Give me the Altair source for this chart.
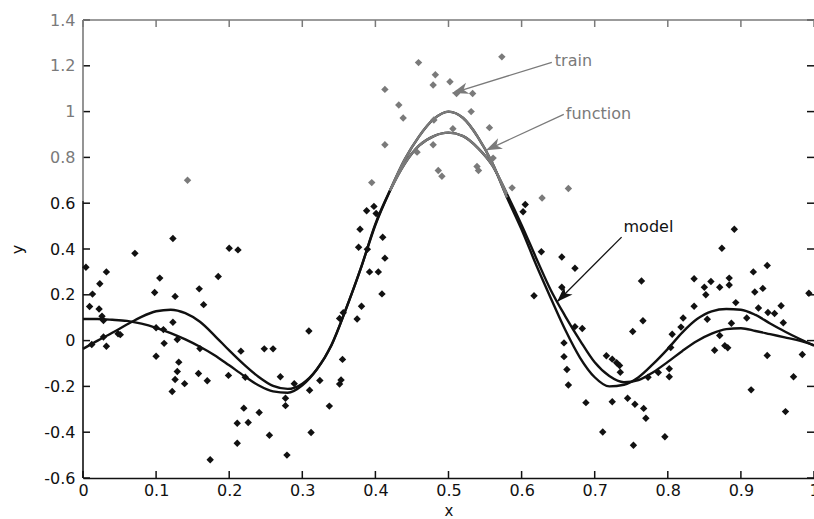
import math
import altair as alt
import pandas as pd

# ---------------- data ----------------
train_left = [
    (0.004, 0.32), (0.009, 0.149), (0.012, -0.017), (0.013, 0.203), (0.022, 0.138),
    (0.023, 0.248), (0.026, 0.106), (0.028, 0.088), (0.028, 0.016), (0.032, 0.30),
    (0.032, -0.025), (0.048, 0.03), (0.051, 0.026), (0.071, 0.381), (0.098, 0.21),
    (0.100, -0.068), (0.100, 0.056), (0.105, 0.273), (0.110, 0.048), (0.111, -0.012),
    (0.122, -0.222), (0.123, 0.446), (0.123, 0.08), (0.126, 0.193), (0.126, -0.17),
    (0.129, 0.005), (0.129, -0.135), (0.131, -0.094), (0.139, -0.188), (0.143, 0.70),
    (0.158, -0.144), (0.159, 0.226), (0.160, -0.035), (0.165, 0.157), (0.170, -0.175),
    (0.174, -0.52), (0.185, 0.28), (0.199, -0.152), (0.200, 0.403), (0.211, -0.361),
    (0.211, -0.448), (0.212, 0.396), (0.216, -0.046), (0.220, -0.295), (0.222, -0.16),
    (0.226, -0.358), (0.241, -0.314), (0.248, -0.036), (0.255, -0.413), (0.260, -0.036),
    (0.270, -0.158), (0.277, -0.252), (0.277, -0.284), (0.279, -0.50), (0.289, -0.188),
]
train_mid = [
    (0.309, 0.042), (0.310, -0.217), (0.312, -0.401), (0.324, -0.174), (0.337, -0.286),
    (0.351, 0.097), (0.351, -0.19), (0.353, -0.172), (0.355, -0.082), (0.356, 0.122),
    (0.375, 0.094), (0.377, 0.408), (0.379, 0.486), (0.381, 0.15), (0.388, 0.567),
    (0.389, 0.399), (0.392, 0.30), (0.395, 0.69), (0.398, 0.586), (0.401, 0.555),
    (0.404, 0.30), (0.409, 0.204), (0.410, 0.451), (0.413, 0.36), (0.413, 0.855),
    (0.413, 1.097), (0.432, 1.029), (0.438, 0.972), (0.457, 0.823), (0.459, 1.214),
    (0.479, 1.116), (0.479, 0.855), (0.480, 0.963), (0.482, 1.161), (0.486, 0.743),
    (0.491, 0.718), (0.502, 1.13), (0.506, 0.925), (0.511, 1.079), (0.531, 1.0),
    (0.533, 1.079), (0.539, 0.76), (0.541, 0.743), (0.556, 0.93), (0.561, 0.797),
    (0.573, 1.239), (0.587, 0.667),
]
train_right = [
    (0.602, 0.563), (0.605, 0.594), (0.617, 0.196), (0.627, 0.388), (0.628, 0.623),
    (0.655, 0.365), (0.655, 0.233), (0.658, -0.01), (0.658, -0.07), (0.662, -0.126),
    (0.664, -0.194), (0.664, 0.664), (0.673, 0.316), (0.673, 0.061), (0.683, 0.053),
    (0.688, -0.271), (0.711, -0.399), (0.716, -0.066), (0.724, -0.081), (0.724, -0.267),
    (0.730, -0.097), (0.734, -0.109), (0.735, -0.138), (0.745, -0.252), (0.752, 0.04),
    (0.753, -0.457), (0.755, -0.278), (0.764, 0.26), (0.766, 0.087), (0.767, -0.296),
    (0.770, -0.339), (0.773, -0.16), (0.787, -0.139), (0.796, -0.42), (0.802, -0.123),
    (0.802, -0.158), (0.804, -0.03), (0.806, 0.028), (0.818, 0.059), (0.821, 0.099),
    (0.836, 0.15), (0.836, 0.27), (0.850, 0.233), (0.852, 0.20), (0.854, 0.093),
    (0.859, 0.258), (0.864, -0.042), (0.871, 0.233), (0.871, 0.022), (0.874, 0.403),
    (0.878, -0.022), (0.882, -0.031), (0.884, 0.273), (0.884, 0.243), (0.887, 0.076),
    (0.891, 0.486), (0.893, 0.166), (0.908, 0.099), (0.914, -0.215), (0.917, 0.30),
    (0.919, 0.212), (0.924, 0.142), (0.930, 0.228), (0.936, 0.328), (0.936, -0.065),
    (0.937, 0.123), (0.946, 0.118), (0.955, 0.152), (0.958, 0.078), (0.961, -0.31),
    (0.972, -0.158), (0.984, -0.061), (0.993, 0.207),
]

curve_x = [0.00, 0.02, 0.04, 0.06, 0.08, 0.10, 0.12, 0.14, 0.16, 0.18,
           0.20, 0.22, 0.24, 0.26, 0.28, 0.30, 0.32, 0.34, 0.36, 0.38,
           0.40, 0.42, 0.44, 0.46, 0.48, 0.50, 0.52, 0.54, 0.56, 0.58,
           0.60, 0.62, 0.64, 0.66, 0.68, 0.70, 0.72, 0.74, 0.76, 0.78,
           0.80, 0.82, 0.84, 0.86, 0.88, 0.90, 0.92, 0.94, 0.96, 0.98, 1.00]
function_y = [-0.036, 0.000, 0.034, 0.070, 0.104, 0.128, 0.135, 0.120, 0.082, 0.022,
              -0.043, -0.104, -0.158, -0.198, -0.211, -0.188, -0.125, -0.018, 0.140, 0.315,
              0.505, 0.655, 0.790, 0.893, 0.968, 1.000, 0.972, 0.890, 0.775, 0.625,
              0.485, 0.330, 0.185, 0.045, -0.075, -0.160, -0.200, -0.193, -0.160, -0.102,
              -0.036, 0.036, 0.094, 0.128, 0.138, 0.135, 0.112, 0.075, 0.040, 0.008, -0.022]
model_y = [0.094, 0.094, 0.091, 0.086, 0.074, 0.056, 0.033, 0.005, -0.027, -0.064,
           -0.108, -0.153, -0.195, -0.222, -0.228, -0.195, -0.125, -0.020, 0.140, 0.315,
           0.510, 0.655, 0.772, 0.852, 0.893, 0.908, 0.893, 0.842, 0.765, 0.640,
           0.505, 0.360, 0.220, 0.105, 0.000, -0.095, -0.155, -0.182, -0.172, -0.138,
           -0.093, -0.045, -0.002, 0.030, 0.050, 0.054, 0.042, 0.028, 0.014, 0.000, -0.020]

x_ticks = [0, 0.1, 0.2, 0.3, 0.4, 0.5, 0.6, 0.7, 0.8, 0.9, 1]
y_ticks = [-0.6, -0.4, -0.2, 0, 0.2, 0.4, 0.6, 0.8, 1, 1.2, 1.4]

ann_label = ["train", "function", "model"]
ann_text_x = [0.6454, 0.6605, 0.7394]
ann_text_y = [1.219, 0.990, 0.496]
ann_from_x = [0.6413, 0.6577, 0.7368]
ann_from_y = [1.215, 0.988, 0.452]
ann_tip_x = [0.5054, 0.5513, 0.6486]
ann_tip_y = [1.081, 0.831, 0.170]

# ---------------- styling ----------------
W, H = 731, 458
FONT = "DejaVu Sans"
BLACK = "#111111"
GRAY = "#7a7a7a"
CUT = 0.61  # faded (watermark) band above this y value

ann_color = [GRAY, GRAY, BLACK]

xs = alt.Scale(domain=[0, 1], nice=False, zero=False)
ys = alt.Scale(domain=[-0.6, 1.4], nice=False, zero=False)

label_expr = "replace(format(datum.value, '~g'), '\u2212', '-')"

xaxis = alt.Axis(values=x_ticks, title="x", grid=False, ticks=False, domain=True,
                 domainColor=BLACK, domainWidth=1.6, labelFont=FONT, labelFontSize=16,
                 labelColor=BLACK, labelPadding=4, labelFlush=False, labelOverlap=False,
                 labelBound=False, labelExpr=label_expr, titleFont=FONT, titleFontSize=15,
                 titleFontWeight="normal", titleColor=BLACK, titleY=37,
                 titleBaseline="alphabetic")
yaxis = alt.Axis(values=y_ticks, title="y", grid=False, ticks=False, domain=False,
                 labelFont=FONT, labelFontSize=16, labelPadding=8, labelFlush=False,
                 labelOverlap=False, labelBound=False, labelExpr=label_expr,
                 labelColor={"condition": {"test": f"datum.value > {CUT}", "value": GRAY},
                             "value": BLACK},
                 titleFont=FONT, titleFontSize=16, titleFontWeight="normal",
                 titleColor=BLACK, titleX=-66, titleY=H / 2, titleAngle=270,
                 titleBaseline="middle", titleAlign="center")

# ---------------- tables ----------------
pts = pd.DataFrame(train_left + train_mid + train_right, columns=["x", "y"])
pts["c"] = [GRAY if v > CUT else BLACK for v in pts["y"]]

cdf = pd.concat([
    pd.DataFrame({"x": curve_x, "y": function_y, "s": "function"}),
    pd.DataFrame({"x": curve_x, "y": model_y, "s": "model"}),
])

xt = pd.DataFrame({"v": x_ticks})
yt = pd.DataFrame({"v": y_ticks})
left_seg = pd.DataFrame({"y0": [-0.6, CUT], "y1": [CUT, 1.4], "c": [BLACK, GRAY]})

sxp, syp = W / 1.0, H / 2.0
ang = []
for fx, fy, tx, ty in zip(ann_from_x, ann_from_y, ann_tip_x, ann_tip_y):
    dx = (tx - fx) * sxp
    dy = -(ty - fy) * syp
    ang.append(math.degrees(math.atan2(dx, -dy)) % 360)
ann = pd.DataFrame({"label": ann_label, "tx": ann_text_x, "ty": ann_text_y,
                    "fx": ann_from_x, "fy": ann_from_y, "ex": ann_tip_x, "ey": ann_tip_y,
                    "ang": ang, "c": ann_color})

X = lambda f: alt.X(f, scale=xs, axis=xaxis)
Y = lambda f: alt.Y(f, scale=ys, axis=yaxis)
NOC = lambda f: alt.Color(f, scale=None)

curves = alt.Chart(cdf).mark_line(strokeWidth=2.4, color=BLACK, interpolate="monotone").encode(
    x=X("x:Q"), y=Y("y:Q"), detail="s:N")
curves_faded = alt.Chart(cdf).transform_filter(f"datum.y > {CUT - 0.05}").mark_line(
    strokeWidth=2.4, color=GRAY, interpolate="monotone").encode(
    x=X("x:Q"), y=Y("y:Q"), detail="s:N")

points = alt.Chart(pts).mark_point(shape="diamond", filled=True, size=55, opacity=1).encode(
    x=X("x:Q"), y=Y("y:Q"), color=NOC("c:N"))

left_ticks = alt.Chart(yt).mark_rule(color=BLACK, strokeWidth=1.5).encode(
    y=Y("v:Q"), x=alt.value(0), x2=alt.value(7))
right_ticks = alt.Chart(yt).mark_rule(color=BLACK, strokeWidth=1.5).encode(
    y=Y("v:Q"), x=alt.value(W - 7), x2=alt.value(W))
bottom_ticks = alt.Chart(xt).mark_rule(color=BLACK, strokeWidth=1.5).encode(
    x=X("v:Q"), y=alt.value(H), y2=alt.value(H - 7))
top_ticks = alt.Chart(xt).mark_rule(color=GRAY, strokeWidth=1.5).encode(
    x=X("v:Q"), y=alt.value(0), y2=alt.value(7))

one = pd.DataFrame({"k": [0]})
top_line = alt.Chart(one).mark_rule(color=GRAY, strokeWidth=1.6).encode(
    x=alt.value(0), x2=alt.value(W), y=alt.value(0))
left_line = alt.Chart(left_seg).mark_rule(strokeWidth=1.6).encode(
    x=alt.value(0), y=Y("y0:Q"), y2="y1:Q", color=NOC("c:N"))

arrow_lines = alt.Chart(ann).mark_rule(strokeWidth=1.3).encode(
    x=X("fx:Q"), y=Y("fy:Q"), x2="ex:Q", y2="ey:Q", color=NOC("c:N"))
arrow_heads = alt.Chart(ann).mark_point(
    shape="M0,0 L0.36,1 L0,0.72 L-0.36,1 Z", filled=True, size=1024, opacity=1,
    strokeWidth=0).encode(
    x=X("ex:Q"), y=Y("ey:Q"), angle=alt.Angle("ang:Q", scale=None), color=NOC("c:N"))
ann_text = alt.Chart(ann).mark_text(align="left", baseline="middle", font=FONT,
                                    fontSize=16).encode(
    x=X("tx:Q"), y=Y("ty:Q"), text="label:N", color=NOC("c:N"))

chart = alt.layer(
    curves, curves_faded, points, left_ticks, right_ticks, bottom_ticks, top_ticks,
    top_line, left_line, arrow_lines, arrow_heads, ann_text,
).properties(
    width=W, height=H, background="white",
    autosize=alt.AutoSizeParams(type="none"),
    padding={"left": 83, "top": 20, "right": 0, "bottom": 41},
).configure_view(stroke=None)

chart.save("out.html", embed_options={"renderer": "svg", "actions": False})
